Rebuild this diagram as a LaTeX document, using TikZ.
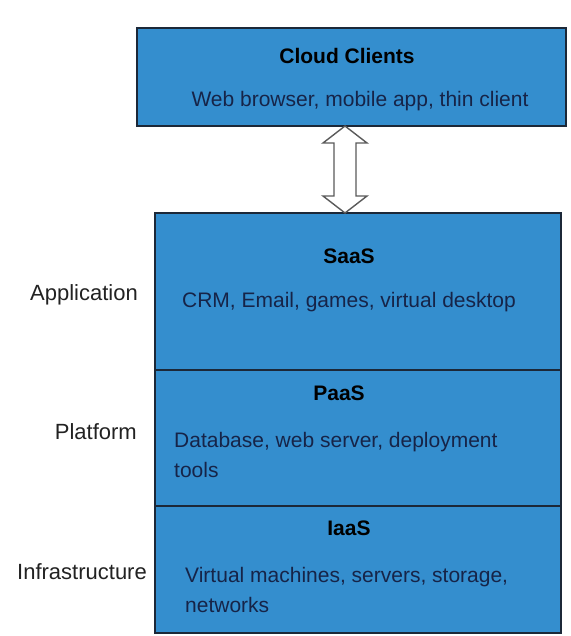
\documentclass[tikz,border=0pt]{standalone}
\usepackage{fontspec}
\setmainfont{Liberation Sans}
\usetikzlibrary{calc}
\definecolor{layerblue}{RGB}{52,142,206}
\definecolor{layeredge}{RGB}{28,40,56}
\definecolor{layertext}{RGB}{22,36,72}
\definecolor{sidetext}{RGB}{34,34,34}
\definecolor{arrowedge}{RGB}{90,90,90}
\tikzset{
  layer/.style={draw=layeredge, fill=layerblue, line width=2pt, inner sep=0pt, outer sep=0pt, anchor=north west},
  title/.style={font=\fontsize{21}{25}\selectfont\bfseries, text=black, inner sep=0pt},
  body/.style={font=\fontsize{21}{30.5}\selectfont, text=layertext, inner sep=0pt, align=left},
  side/.style={font=\fontsize{22}{26}\selectfont, text=sidetext, inner sep=0pt, anchor=east},
  blockarrow/.style={draw=arrowedge, fill=white, line width=1.4pt, line join=miter}
}
\begin{document}
\begin{tikzpicture}[x=1pt,y=-1pt]
\useasboundingbox (0,0) rectangle (570,636);
\fill[white] (0,0) rectangle (570,636);

% client tier
\node[layer, minimum width=429pt, minimum height=98pt] (cloud) at (137,28) {};
\node[title] (cloudtitle) at (347,56) {Cloud Clients};
\node[body] (cloudtext) at (360,101) {Web browser, mobile app, thin client};

% service stack
\node[layer, minimum width=406pt, minimum height=157pt] (saas) at (155,213) {};
\node[layer, minimum width=406pt, minimum height=136pt] (paas) at (155,370) {};
\node[layer, minimum width=406pt, minimum height=127pt] (iaas) at (155,506) {};

\node[title] (saastitle) at (349,256) {SaaS};
\node[body] (saastext) at (349,302) {CRM, Email, games, virtual desktop};

\node[title] (paastitle) at (339,393) {PaaS};
\node[body, anchor=west] (paastext) at (174,455) {Database, web server, deployment\\tools};

\node[title] (iaastitle) at (349,528) {IaaS};
\node[body, anchor=west] (iaastext) at (185,590) {Virtual machines, servers, storage,\\networks};

% layer names
\node[side] (lapp) at (138,295) {Application};
\node[side] (lplat) at (137,432) {Platform};
\node[side] (linfra) at (147,572) {Infrastructure};

% two-way block arrow between clients and services
\coordinate (atop) at ($(cloud.south west)+(208,0)$);
\coordinate (abot) at ($(saas.north west)+(190,0)$);
\draw[blockarrow] (atop) -- ++(-22,17) -- ++(11,0)
  -- ($(abot)+(-11,-17)$) -- ++(-11,0) -- (abot) -- ++(22,-17) -- ++(-11,0)
  -- ($(atop)+(11,17)$) -- ++(11,0) -- cycle;
\end{tikzpicture}
\end{document}
